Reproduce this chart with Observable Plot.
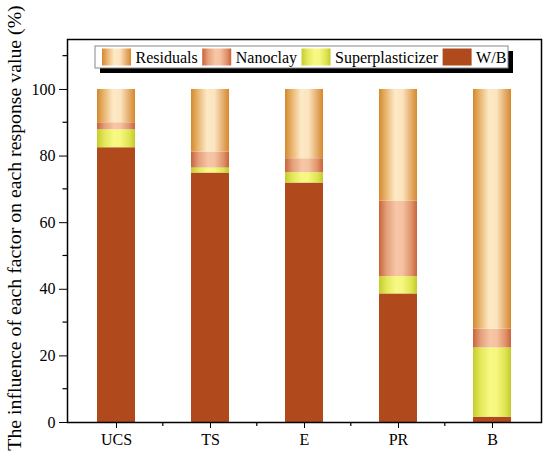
<!DOCTYPE html>
<html>
<head>
<meta charset="utf-8">
<script src="https://cdn.jsdelivr.net/npm/d3@7"></script>
<script src="https://cdn.jsdelivr.net/npm/@observablehq/plot@0.6"></script>
<style>
  body { margin: 0; background: #fff; }
  svg, svg text { font-family: "Liberation Serif", "DejaVu Serif", serif !important; }
</style>
</head>
<body>
<div id="chart"></div>
<script>
const categories = ["UCS", "TS", "E", "PR", "B"];
const series = ["W/B", "Superplasticizer", "Nanoclay", "Residuals"];
const legendOrder = ["Residuals", "Nanoclay", "Superplasticizer", "W/B"];
const wb = [82.5, 74.9, 71.9, 38.6, 1.6];
const superplasticizer = [5.4, 1.5, 3.1, 5.2, 20.8];
const nanoclay = [2.1, 4.8, 4.2, 22.7, 5.6];
const residuals = [10.0, 18.8, 20.8, 33.5, 72.0];
const yTicks = [0, 20, 40, 60, 80, 100];
const yMinorTicks = [10, 30, 50, 70, 90, 110];
const yLabel = "The influence of each factor on each response value (%)";

const values = {"W/B": wb, "Superplasticizer": superplasticizer, "Nanoclay": nanoclay, "Residuals": residuals};
const gradId = {"W/B": "g-wb", "Superplasticizer": "g-sp", "Nanoclay": "g-nc", "Residuals": "g-res"};
const data = [];
categories.forEach((c, i) => series.forEach(s => data.push({cat: c, series: s, value: values[s][i]})));

const plot = Plot.plot({
  width: 550,
  height: 464,
  marginLeft: 67,
  marginRight: 9,
  marginTop: 39,
  marginBottom: 42,
  style: {fontFamily: "'Liberation Serif', serif", fontSize: "16px", color: "black", background: "white"},
  x: {domain: categories, paddingInner: 0.6, paddingOuter: 0.3, label: null},
  y: {domain: [0, 115], label: null},
  color: {type: "identity"},
  marks: [
    Plot.barY(data, {x: "cat", y: "value", fill: d => `url(#${gradId[d.series]})`}),
    Plot.axisX({tickSize: 6, tickPadding: 5, fontSize: 16, label: null}),
    Plot.axisY({ticks: yTicks, tickSize: 8, tickPadding: 4, fontSize: 16, label: null, tickFormat: d3.format("d")}),
    Plot.frame({stroke: "black", strokeWidth: 1.5})
  ]
});

document.getElementById("chart").appendChild(plot);

const svg = d3.select(plot);
svg.attr("font-family", "'Liberation Serif', serif");
// gradients
const defs = svg.insert("defs", ":first-child");
function grad(id, stops) {
  const g = defs.append("linearGradient").attr("id", id).attr("x1", 0).attr("x2", 1).attr("y1", 0).attr("y2", 0);
  stops.forEach(([o, c]) => g.append("stop").attr("offset", o).attr("stop-color", c));
}
grad("g-res", [[0, "#d38a2e"], [0.18, "#e9b46e"], [0.42, "#fde9c6"], [0.62, "#fbe4bf"], [0.85, "#e4ab6a"], [1, "#d6892c"]]);
grad("g-nc", [[0, "#c9633a"], [0.2, "#e4a07a"], [0.45, "#f7c6a6"], [0.62, "#f4c2a1"], [0.85, "#df936a"], [1, "#c9643a"]]);
grad("g-sp", [[0, "#c6cc2a"], [0.2, "#e3e85a"], [0.45, "#f8f984"], [0.62, "#f5f77e"], [0.85, "#dfe452"], [1, "#c4cb28"]]);
grad("g-wb", [[0, "#b04a1d"], [1, "#b04a1d"]]);

// minor ticks
const yScale = plot.scale("y");
const xScale = plot.scale("x");
const axisLayer = svg.append("g").attr("stroke", "black").attr("stroke-width", 1.2);
yMinorTicks.forEach(v => {
  const y = yScale.apply(v);
  axisLayer.append("line").attr("x1", 67 - 4.5).attr("x2", 67).attr("y1", y).attr("y2", y);
});
const step = xScale.step;
const bottom = 464 - 42;
categories.slice(1).forEach(c => {
  const xm = xScale.apply(c) - step * xScale.paddingInner / 2;
  axisLayer.append("line").attr("x1", xm).attr("x2", xm).attr("y1", bottom).attr("y2", bottom + 4);
});

// y axis title
svg.append("text")
  .attr("transform", "translate(21,228) rotate(-90)")
  .attr("text-anchor", "middle")
  .attr("font-size", 19.8)
  .attr("fill", "black")
  .text(yLabel);

// legend
const lg = svg.append("g");
lg.append("rect").attr("x", 100).attr("y", 51).attr("width", 413).attr("height", 22).attr("fill", "black");
lg.append("rect").attr("x", 95).attr("y", 46).attr("width", 413).attr("height", 22).attr("fill", "white").attr("stroke", "#888").attr("stroke-width", 1);
let lx = 102;
legendOrder.forEach(s => {
  lg.append("rect").attr("x", lx).attr("y", 48.5).attr("width", 29).attr("height", 17).attr("fill", `url(#${gradId[s]})`);
  const t = lg.append("text").attr("x", lx + 33.5).attr("y", 62.5).attr("text-anchor", "start").attr("font-size", 16).attr("fill", "black").text(s);
  lx = lx + 33.5 + t.node().getComputedTextLength() + 4.5;
});
</script>
</body>
</html>
